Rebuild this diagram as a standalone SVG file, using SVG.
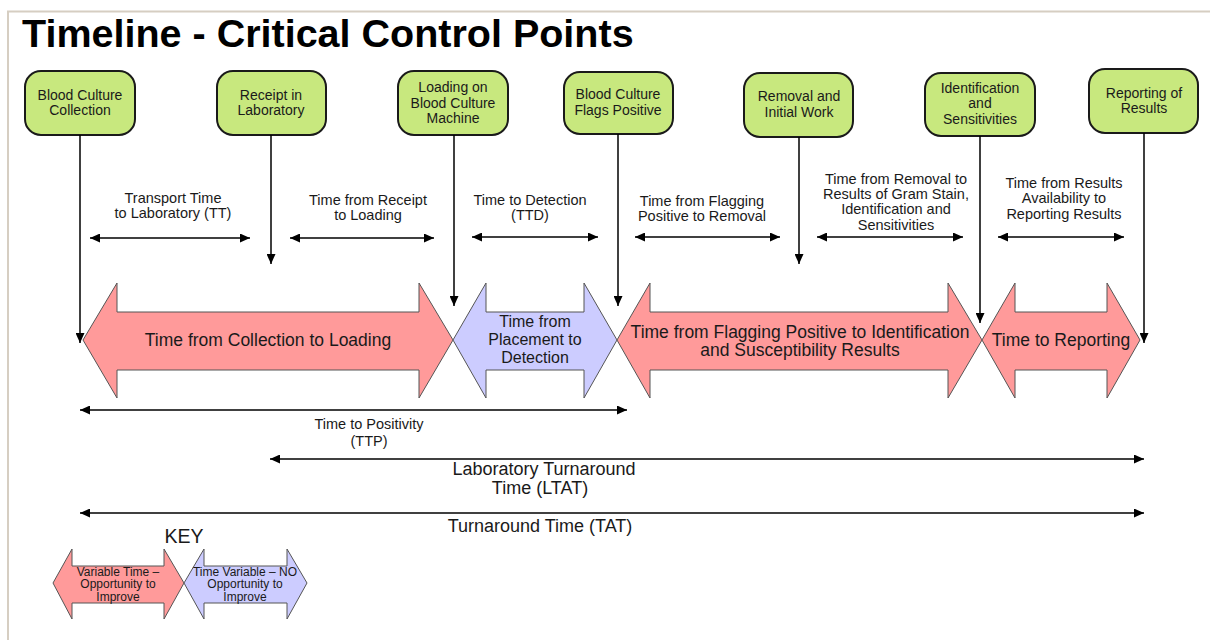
<svg xmlns="http://www.w3.org/2000/svg" width="1210" height="640" viewBox="0 0 1210 640">
<style>
text{font-family:"Liberation Sans",Arial,sans-serif;fill:#1a1a1a;text-anchor:middle}
.title{font-size:39.5px;font-weight:bold;text-anchor:start;fill:#000}
.node rect{fill:#c8e87e;stroke:#1a1a1a;stroke-width:2}
.nt{font-size:14px}
.lab{font-size:14.5px}
.big{font-size:17.5px}
.bot{font-size:18px}
.mid{font-size:16px}
.key{font-size:12px}
.conn line{stroke:#000;stroke-width:1.5}
.red{fill:#ff9a9a;stroke:#555;stroke-width:1}
.blue{fill:#ccccff;stroke:#555;stroke-width:1}
</style>
<defs>
<marker id="ah" markerUnits="userSpaceOnUse" markerWidth="11" markerHeight="9" refX="10" refY="4.5" orient="auto-start-reverse">
<path d="M0,0 L10,4.5 L0,9 z" fill="#000"/>
</marker>
</defs>
<rect width="1210" height="640" fill="#fff"/>
<path d="M8,640 V11.5 H1210" fill="none" stroke="#d6cec2" stroke-width="2"/>
<text class="title" x="22" y="47">Timeline - Critical Control Points</text>

<g id="n1" class="node"><rect x="25" y="71" width="110" height="64" rx="16"/><text class="nt" x="80" y="100">Blood Culture</text><text class="nt" x="80" y="115">Collection</text></g>
<g id="n2" class="node"><rect x="217" y="71" width="109" height="64" rx="16"/><text class="nt" x="271" y="100">Receipt in</text><text class="nt" x="271" y="115">Laboratory</text></g>
<g id="n3" class="node"><rect x="398" y="71" width="110" height="64" rx="16"/><text class="nt" x="453" y="92">Loading on</text><text class="nt" x="453" y="108">Blood Culture</text><text class="nt" x="453" y="123">Machine</text></g>
<g id="n4" class="node"><rect x="564" y="72" width="109" height="62" rx="16"/><text class="nt" x="618" y="99">Blood Culture</text><text class="nt" x="618" y="115">Flags Positive</text></g>
<g id="n5" class="node"><rect x="744" y="73" width="109" height="64" rx="16"/><text class="nt" x="799" y="101">Removal and</text><text class="nt" x="799" y="117">Initial Work</text></g>
<g id="n6" class="node"><rect x="925" y="73" width="110" height="63" rx="16"/><text class="nt" x="980" y="93">Identification</text><text class="nt" x="980" y="108">and</text><text class="nt" x="980" y="124">Sensitivities</text></g>
<g id="n7" class="node"><rect x="1089" y="69" width="109" height="64" rx="16"/><text class="nt" x="1144" y="98">Reporting of</text><text class="nt" x="1144" y="113">Results</text></g>

<g id="phases">
<polygon class="red" points="83,340 117,283 117,312 419,312 419,283 453,340 419,398 419,370 117,370 117,398"/>
<polygon class="blue" points="453,340 486,283 486,312 584,312 584,283 617,340 584,398 584,370 486,370 486,398"/>
<polygon class="red" points="617,340 650,283 650,312 948,312 948,283 982,340 948,398 948,370 650,370 650,398"/>
<polygon class="red" points="982,340 1015,283 1015,312 1107,312 1107,283 1140,340 1107,398 1107,370 1015,370 1015,398"/>
<text class="big" x="268" y="346">Time from Collection to Loading</text>
<text class="mid" x="535" y="327">Time from</text>
<text class="mid" x="535" y="345">Placement to</text>
<text class="mid" x="535" y="363">Detection</text>
<text class="big" x="800" y="338">Time from Flagging Positive to Identification</text>
<text class="big" x="800" y="356">and Susceptibility Results</text>
<text class="big" x="1061" y="346">Time to Reporting</text>
</g>

<g id="connectors" class="conn">
<line x1="80" y1="135" x2="80" y2="343" marker-end="url(#ah)"/>
<line x1="271" y1="135" x2="271" y2="264" marker-end="url(#ah)"/>
<line x1="454" y1="135" x2="454" y2="306" marker-end="url(#ah)"/>
<line x1="618" y1="134" x2="618" y2="306" marker-end="url(#ah)"/>
<line x1="799" y1="137" x2="799" y2="264" marker-end="url(#ah)"/>
<line x1="980" y1="136" x2="980" y2="323" marker-end="url(#ah)"/>
<line x1="1144" y1="133" x2="1144" y2="343" marker-end="url(#ah)"/>
<line x1="90" y1="238" x2="250" y2="238" marker-start="url(#ah)" marker-end="url(#ah)"/>
<line x1="290" y1="238" x2="434" y2="238" marker-start="url(#ah)" marker-end="url(#ah)"/>
<line x1="472" y1="237" x2="598" y2="237" marker-start="url(#ah)" marker-end="url(#ah)"/>
<line x1="635" y1="237" x2="780" y2="237" marker-start="url(#ah)" marker-end="url(#ah)"/>
<line x1="817" y1="237" x2="963" y2="237" marker-start="url(#ah)" marker-end="url(#ah)"/>
<line x1="998" y1="237" x2="1124" y2="237" marker-start="url(#ah)" marker-end="url(#ah)"/>
<line x1="80" y1="410" x2="627" y2="410" marker-start="url(#ah)" marker-end="url(#ah)"/>
<line x1="270" y1="459" x2="1144" y2="459" marker-start="url(#ah)" marker-end="url(#ah)"/>
<line x1="80" y1="513" x2="1144" y2="513" marker-start="url(#ah)" marker-end="url(#ah)"/>
</g>

<g id="labels">
<text class="lab" x="173" y="203">Transport Time</text>
<text class="lab" x="173" y="218">to Laboratory (TT)</text>
<text class="lab" x="368" y="205">Time from Receipt</text>
<text class="lab" x="368" y="220">to Loading</text>
<text class="lab" x="530" y="205">Time to Detection</text>
<text class="lab" x="530" y="220">(TTD)</text>
<text class="lab" x="702" y="206">Time from Flagging</text>
<text class="lab" x="702" y="221">Positive to Removal</text>
<text class="lab" x="896" y="184">Time from Removal to</text>
<text class="lab" x="896" y="199">Results of Gram Stain,</text>
<text class="lab" x="896" y="214">Identification and</text>
<text class="lab" x="896" y="230">Sensitivities</text>
<text class="lab" x="1064" y="188">Time from Results</text>
<text class="lab" x="1064" y="203">Availability to</text>
<text class="lab" x="1064" y="219">Reporting Results</text>
<text class="lab" x="369" y="429">Time to Positivity</text>
<text class="lab" x="369" y="446">(TTP)</text>
<text class="bot" x="544" y="475">Laboratory Turnaround</text>
<text class="bot" x="540" y="494">Time (LTAT)</text>
<text class="bot" x="540" y="532">Turnaround Time (TAT)</text>
</g>

<g id="key">
<text x="184" y="543" style="font-size:19.5px">KEY</text>
<polygon class="red" points="53,583 72,549 72,566 164,566 164,549 184,583 164,619 164,603 72,603 72,619"/>
<polygon class="blue" points="184,583 204,549 204,566 287,566 287,549 307,583 287,619 287,603 204,603 204,619"/>
<text class="key" x="118" y="576">Variable Time –</text>
<text class="key" x="118" y="588">Opportunity to</text>
<text class="key" x="118" y="601">Improve</text>
<text class="key" x="245" y="576">Time Variable – NO</text>
<text class="key" x="245" y="588">Opportunity to</text>
<text class="key" x="245" y="601">Improve</text>
</g>
</svg>
